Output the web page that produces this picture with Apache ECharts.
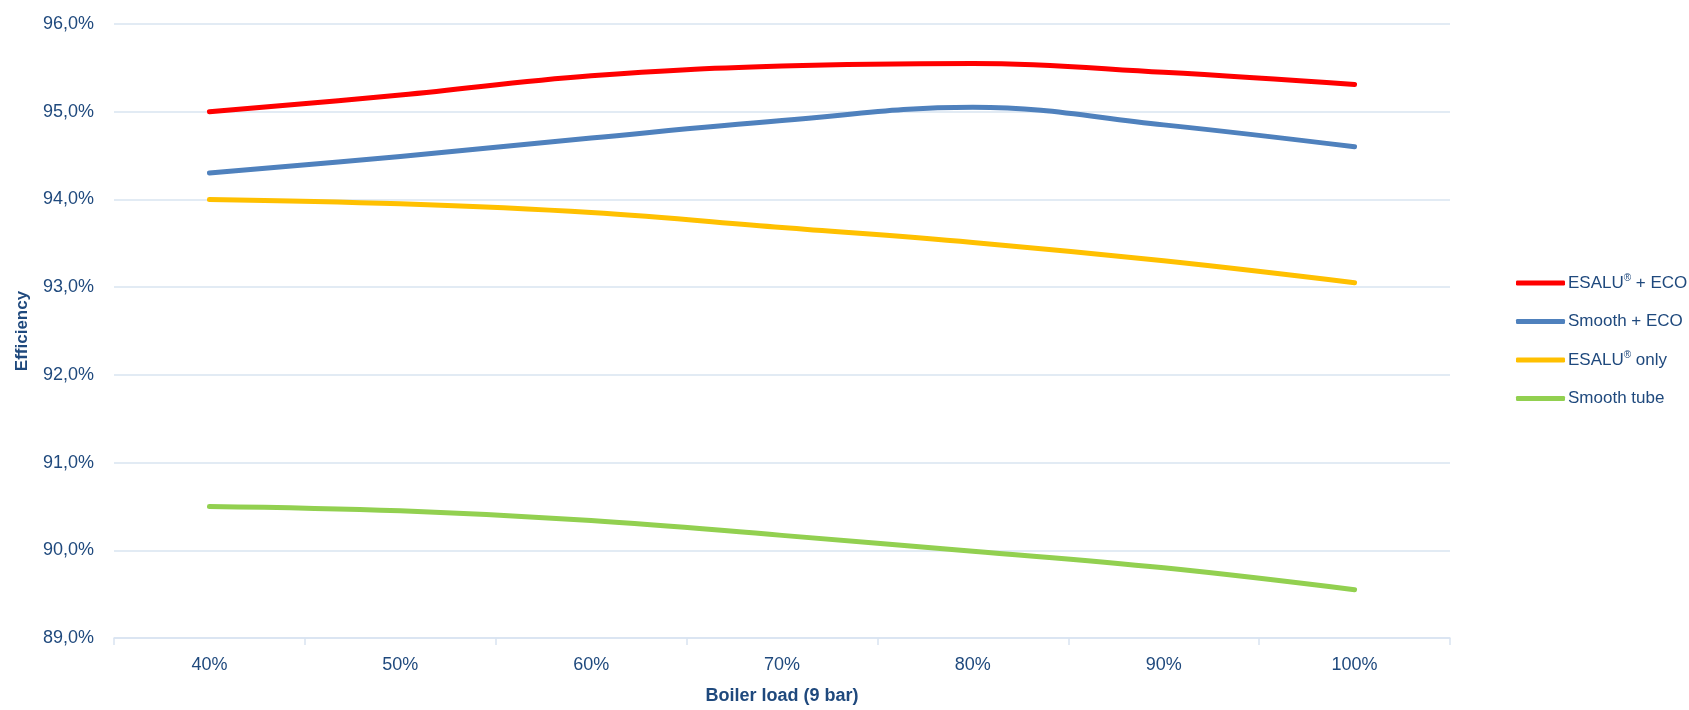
<!DOCTYPE html>
<html>
<head>
<meta charset="utf-8">
<script src="https://cdn.jsdelivr.net/npm/echarts@6/dist/echarts.min.js"></script>
<style>
html,body{margin:0;padding:0;background:#fff;}
#chart{width:1689px;height:710px;}
</style>
</head>
<body>
<div id="chart"></div>
<script>
var categories = ['40%', '50%', '60%', '70%', '80%', '90%', '100%'];
var esaluEco = [95.00, 95.19, 95.41, 95.52, 95.55, 95.45, 95.31];
var smoothEco = [94.30, 94.49, 94.70, 94.90, 95.05, 94.85, 94.60];
var esaluOnly = [94.00, 93.95, 93.85, 93.68, 93.51, 93.30, 93.05];
var smoothTube = [90.50, 90.45, 90.34, 90.17, 89.99, 89.80, 89.55];
var seriesNames = ['ESALU® + ECO', 'Smooth + ECO', 'ESALU® only', 'Smooth tube'];
var yTicks = { min: 89, max: 96, step: 1 };

var textColor = '#1F497D';
var gridColor = '#D9E4F1';
var fontFamily = '"Liberation Sans", Arial, sans-serif';
var colors = ['#FF0000', '#4F81BD', '#FFC000', '#92D050'];
var values = [esaluEco, smoothEco, esaluOnly, smoothTube];

var chart = echarts.init(document.getElementById('chart'));
chart.setOption({
  animation: false,
  backgroundColor: '#ffffff',
  textStyle: { fontFamily: fontFamily },
  grid: { left: 114, right: 239, top: 24, bottom: 70, containLabel: false },
  legend: {
    orient: 'vertical',
    left: 1511,
    top: 268,
    icon: 'roundRect',
    itemWidth: 49,
    itemHeight: 5,
    itemGap: 18.5,
    data: seriesNames,
    formatter: function (n) { return n.replace('®', '{sup|®}'); },
    textStyle: {
      color: textColor, fontSize: 17, lineHeight: 20, fontFamily: fontFamily, padding: [0, 0, 0, -2],
      rich: { sup: { fontSize: 10, lineHeight: 12, verticalAlign: 'top', color: textColor } }
    }
  },
  xAxis: {
    type: 'category',
    data: categories,
    boundaryGap: true,
    name: 'Boiler load (9 bar)',
    nameLocation: 'middle',
    nameGap: 49,
    nameTextStyle: { color: textColor, fontSize: 18, fontWeight: 'bold', fontFamily: fontFamily },
    axisLine: { show: true, lineStyle: { color: gridColor, width: 1.5 } },
    axisTick: { show: true, length: 7, lineStyle: { color: gridColor, width: 1.5 } },
    axisLabel: { color: textColor, fontSize: 18, margin: 18, fontFamily: fontFamily }
  },
  yAxis: {
    type: 'value',
    min: yTicks.min,
    max: yTicks.max,
    interval: yTicks.step,
    name: 'Efficiency',
    nameLocation: 'middle',
    nameGap: 83,
    nameTextStyle: { color: textColor, fontSize: 17, fontWeight: 'bold', fontFamily: fontFamily },
    axisLine: { show: false },
    axisTick: { show: false },
    splitLine: { show: true, lineStyle: { color: gridColor, width: 1.5 } },
    axisLabel: {
      color: textColor, fontSize: 18, margin: 20, fontFamily: fontFamily,
      formatter: function (v) { return v.toFixed(1).replace('.', ',') + '%'; }
    }
  },
  series: seriesNames.map(function (name, i) {
    return {
      name: name,
      type: 'line',
      data: values[i],
      smooth: 0.4,
      symbol: 'none',
      color: colors[i],
      lineStyle: { color: colors[i], width: 5, cap: 'round', join: 'round' }
    };
  })
});
</script>
</body>
</html>
